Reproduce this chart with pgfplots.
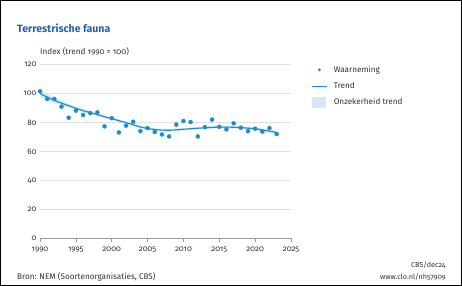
\documentclass[border=0pt]{standalone}
\usepackage{fontspec}
\setmainfont{Fira Sans}[Numbers=OldStyle]
\usepackage{pgfplots}
\pgfplotsset{compat=1.18}

\definecolor{cloblue}{HTML}{1A8CD0}
\definecolor{titleblue}{HTML}{1F63AD}
\definecolor{bandblue}{HTML}{D4E7F7}
\definecolor{gridgrey}{HTML}{E0E0E0}
\definecolor{axisgrey}{HTML}{9A9A9A}
\definecolor{textgrey}{HTML}{333333}

% observed index values
\pgfplotstableread{
year idx
1990 101.6
1991 96.3
1992 96.3
1993 91.0
1994 83.3
1995 88.2
1996 85.2
1997 86.5
1998 87.0
1999 77.3
2000 83.0
2001 73.1
2002 77.8
2003 80.5
2004 74.0
2005 76.1
2006 73.4
2007 71.7
2008 70.3
2009 78.5
2010 81.0
2011 80.3
2012 70.3
2013 76.8
2014 82.0
2015 77.0
2016 75.2
2017 79.4
2018 76.4
2019 74.0
2020 75.7
2021 73.7
2022 76.1
2023 72.0
}\obs

% smoothed trend
\pgfplotstableread{
year trend
1990 100.0
1992 95.3
1994 91.6
1996 88.2
1998 85.4
2000 82.6
2002 79.9
2004 76.9
2006 75.1
2008 74.6
2010 75.3
2012 76.0
2014 76.6
2016 76.8
2018 76.4
2020 75.6
2022 74.0
2023 73.0
}\trend

\begin{document}
\begin{tikzpicture}
% outer frame
\draw[black, line width=1.2bp] (0.6bp,0.6bp) rectangle (461.4bp,285.4bp);

\node[anchor=base west, inner sep=0, text=titleblue,
      font=\bfseries\fontsize{10.6}{12}\selectfont] at (17bp,253bp) {Terrestrische fauna};
\node[anchor=base west, inner sep=0, text=textgrey,
      font=\fontsize{8.2}{9}\selectfont] at (40bp,231bp) {Index (trend 1990 = 100)};
\node[anchor=base west, inner sep=0, text=textgrey,
      font=\fontsize{8.2}{9}\selectfont] at (17bp,7bp) {Bron: NEM (Soortenorganisaties, CBS)};
\node[anchor=base east, inner sep=0, text=textgrey,
      font=\fontsize{7.3}{8}\selectfont] at (446bp,19bp) {CBS/dec24};
\node[anchor=base east, inner sep=0, text=textgrey,
      font=\fontsize{7.3}{8}\selectfont] at (446bp,7bp) {www.clo.nl/nh57909};

\begin{axis}[
  at={(40bp,48bp)}, anchor=south west,
  scale only axis, width=251bp, height=173.3bp,
  xmin=1990, xmax=2025, ymin=0, ymax=120,
  xtick={1990,1995,...,2025},
  ytick={0,20,...,120},
  axis x line*=bottom,
  axis y line*=left,
  x axis line style={-, axisgrey, line width=0.6bp},
  y axis line style={draw=none},
  ymajorgrids,
  grid style={gridgrey, line width=0.6bp},
  major tick length=3.5bp,
  xtick style={axisgrey, line width=0.6bp},
  ytick style={draw=none},
  xtick align=outside,
  tick label style={font=\fontsize{8}{9}\selectfont, text=textgrey},
  /pgf/number format/assume math mode=true,
  /pgf/number format/1000 sep={},
  xticklabel style={yshift=-1.5bp},
  clip=false,
  legend cell align=left,
  legend style={at={(1.08,1.003)}, anchor=north west, draw=none, fill=none,
                font=\fontsize{8.2}{9}\selectfont, text=textgrey,
                row sep=5.2bp, inner sep=0pt,
                nodes={inner sep=0pt}},
]
% uncertainty band
\addplot[fill=bandblue, draw=none, forget plot] coordinates {
 (1990,102.4) (1992,97.0) (1994,92.9) (1996,89.3) (1998,86.4) (2000,83.5)
 (2002,80.7) (2004,77.7) (2006,75.9) (2008,75.4) (2010,76.1) (2012,76.8)
 (2014,77.4) (2016,77.6) (2018,77.2) (2020,76.5) (2022,75.0) (2023,74.2)
 (2023,71.8) (2022,73.0) (2020,74.7) (2018,75.6) (2016,76.0) (2014,75.8)
 (2012,75.2) (2010,74.5) (2008,73.8) (2006,74.3) (2004,76.1) (2002,79.1)
 (2000,81.7) (1998,84.4) (1996,87.1) (1994,90.3) (1992,93.6) (1990,97.6)
} -- cycle;
\addplot[cloblue, line width=1.1bp, smooth, tension=0.6, forget plot]
   table[x=year, y=trend] {\trend};
\addplot[only marks, mark=*, mark size=2bp, draw=cloblue, fill=cloblue, forget plot]
   table[x=year, y=idx] {\obs};

% legend symbols, each in a 22bp wide slot so the texts line up
\addlegendimage{legend image code/.code={%
   \fill[cloblue, draw=none] (7.5bp,0bp) circle[radius=1.6bp];
   \path[draw=none, fill=none] (0bp,-5.5bp) rectangle (22bp,5.5bp);}}
\addlegendentry{Waarneming}
\addlegendimage{legend image code/.code={%
   \draw[cloblue, line width=1.1bp] (0bp,0bp) -- (15bp,0bp);
   \path[draw=none, fill=none] (0bp,-5.5bp) rectangle (22bp,5.5bp);}}
\addlegendentry{Trend}
\addlegendimage{legend image code/.code={%
   \fill[bandblue, draw=none] (0.5bp,-5.5bp) rectangle (14.5bp,5.5bp);
   \path[draw=none, fill=none] (0bp,-5.5bp) rectangle (22bp,5.5bp);}}
\addlegendentry{Onzekerheid trend}
\end{axis}
\end{tikzpicture}
\end{document}
